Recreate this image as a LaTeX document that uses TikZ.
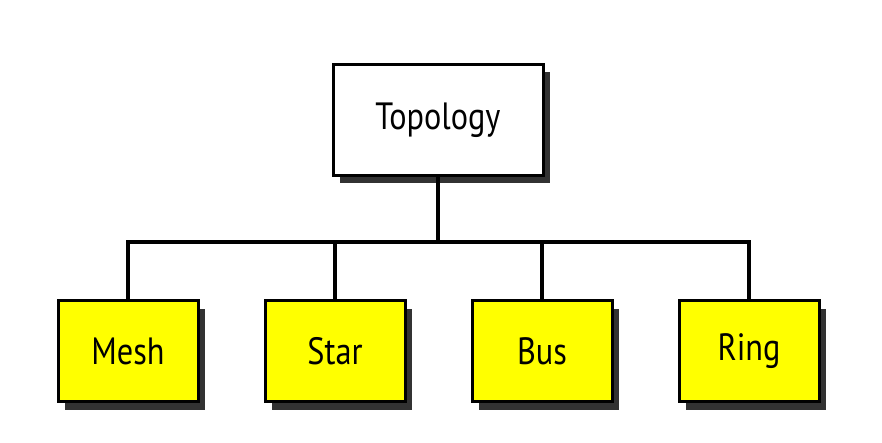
\documentclass[tikz,border=0pt]{standalone}
\usepackage{fontspec}
\setmainfont{PT Sans}[FakeStretch=0.85]
\usetikzlibrary{shadows}
\definecolor{leafyellow}{RGB}{255,255,0}
\definecolor{shadowgray}{RGB}{50,50,50}

\begin{document}
\begin{tikzpicture}[
            x=1pt, y=-1pt,
            node distance=207pt,
            every node/.style={
                rectangle,
                draw,
                line width=3pt,
                inner sep=0pt,
                font=\fontsize{38}{42}\selectfont,
                drop shadow={shadow xshift=7pt, shadow yshift=-8pt, fill=shadowgray, opacity=1}
            },
            root/.style={fill=white, minimum width=210pt, minimum height=111pt},
            leaf/.style={fill=leafyellow, minimum width=140pt, minimum height=101pt},
            link/.style={line width=3.2pt}
        ]
            \useasboundingbox (0,0) rectangle (882,443);
            % nodes
            \node[root] (topo) at (438,120) {Topology};
            \node[leaf] (mesh) at (128,351) {Mesh};
            \node[leaf] (star) [right of=mesh] {Star};
            \node[leaf] (bus) [right of=star] {Bus};
            \node[leaf] (ring) [right of=bus] {Ring};

            % tree
            \coordinate (bar) at (438,242);
            \draw[link] (topo.south) -- (bar);
            \draw[link] (mesh.north) |- (bar) -| (ring.north);
            \draw[link] (star.north) -- (star.north |- bar);
            \draw[link] (bus.north) -- (bus.north |- bar);
        \end{tikzpicture}
\end{document}
